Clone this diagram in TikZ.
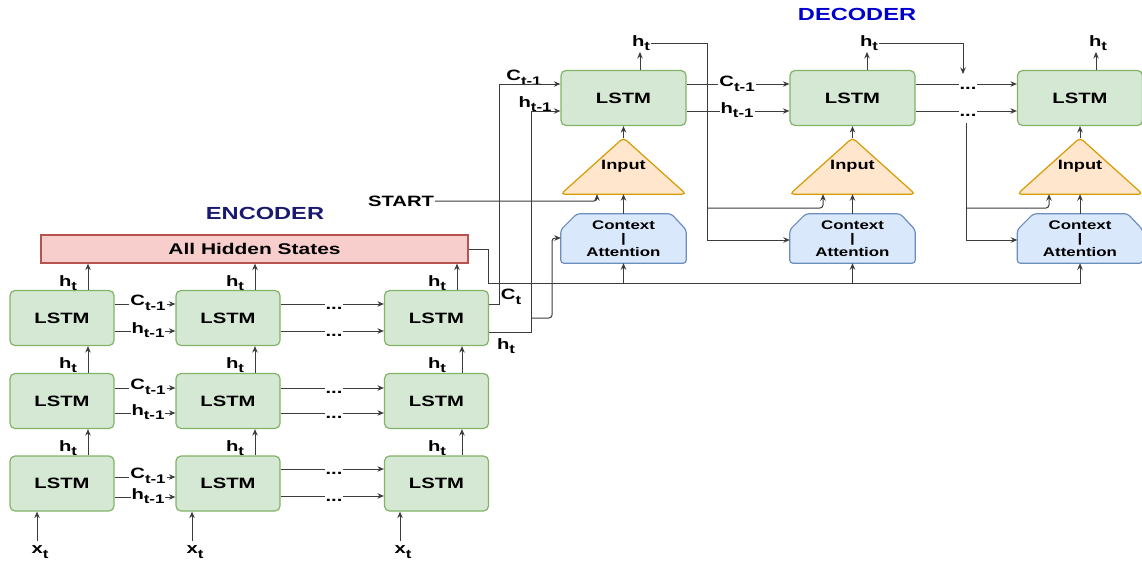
\documentclass[tikz,border=0pt]{standalone}
\usepackage{fontspec}
\setmainfont{Liberation Sans}[FakeStretch=1.35]
\usetikzlibrary{arrows.meta,calc,backgrounds}

\definecolor{lstmfill}{HTML}{D5E8D4}
\definecolor{lstmdraw}{HTML}{82B366}
\definecolor{hidfill}{HTML}{F8CECC}
\definecolor{hiddraw}{HTML}{B85450}
\definecolor{infill}{HTML}{FFE6CC}
\definecolor{indraw}{HTML}{D79B00}
\definecolor{ctxfill}{HTML}{DAE8FC}
\definecolor{ctxdraw}{HTML}{6C8EBF}
\definecolor{enccol}{RGB}{25,25,112}
\definecolor{deccol}{RGB}{0,0,204}
\definecolor{wirecol}{HTML}{3C3C3C}

% symbol with a lowered index
\newcommand\sub[2]{#1\raisebox{-4.5pt}{\fontsize{12.5}{13}\selectfont #2}}

\begin{document}
\begin{tikzpicture}[x=1pt, y=-1pt,
  every node/.style={font=\bfseries\fontsize{15}{17}\selectfont, inner sep=1pt},
  wire/.style={draw=wirecol, line width=1pt},
  arr/.style={wire, -{Stealth[length=6.5pt,width=5.5pt]}},
  lstm/.style={rectangle, rounded corners=5pt, draw=lstmdraw, fill=lstmfill,
    line width=1.2pt, minimum height=55pt, font=\bfseries\fontsize{15}{18}\selectfont},
  enc/.style={lstm, minimum width=104pt},
  dec/.style={lstm, minimum width=125pt},
  tag/.style={fill=white, inner sep=1pt},
  dots/.style={fill=white, inner xsep=1pt, inner ysep=7pt, anchor=base},
  intext/.style={minimum width=125pt, minimum height=56pt, font=\bfseries\fontsize{13.5}{15}\selectfont},
  ctxtext/.style={minimum width=125pt, minimum height=49pt, align=center,
    font=\bfseries\fontsize{12.5}{13.5}\selectfont},
  inshape/.style={draw=indraw, fill=infill, line width=1.2pt, rounded corners=4pt},
  ctxshape/.style={draw=ctxdraw, fill=ctxfill, line width=1.2pt, rounded corners=3pt},
  title/.style={font=\bfseries\fontsize{17.5}{19}\selectfont}
]
\useasboundingbox (0,0) rectangle (1142,565);

% ---------------- encoder ----------------
\node[title, text=enccol] (enctitle) at (265,213) {ENCODER};
\node[draw=hiddraw, fill=hidfill, line width=1.2pt, minimum width=427pt, minimum height=28pt,
  font=\bfseries\fontsize{15.5}{17}\selectfont]
  (hid) at (254.5,249) {All Hidden States};

\node[enc] (e11) at (62,318) {LSTM};
\node[enc] (e12) at (228,318) {LSTM};
\node[enc] (e13) at (436.5,318) {LSTM};
\node[enc] (e21) at (62,401) {LSTM};
\node[enc] (e22) at (228,401) {LSTM};
\node[enc] (e23) at (436.5,401) {LSTM};
\node[enc] (e31) at (62,483.5) {LSTM};
\node[enc] (e32) at (228,483.5) {LSTM};
\node[enc] (e33) at (436.5,483.5) {LSTM};

% hidden state going up
\foreach \c/\x in {1/88,2/255,3/457}
  \draw[arr] (\x,0 |- e1\c.north) -- (\x,0 |- hid.south);
\foreach \c/\x in {1/88,2/255,3/462}{
  \draw[arr] (\x,0 |- e2\c.north) -- (\x,0 |- e1\c.south);
  \draw[arr] (\x,0 |- e3\c.north) -- (\x,0 |- e2\c.south);
}
\foreach \c/\x in {1/68,2/235,3/437}
  \foreach \r/\y in {1/283,2/365,3/448}
    \node (ht\r\c) at (\x,\y) {\sub{h}{t}};

% inputs
\foreach \c/\x/\ax in {1/40/37,2/195/192,3/403/400}{
  \node (xt\c) at (\x,552) {\sub{x}{t}};
  \draw[arr, shorten <=4pt] (\ax,0 |- xt\c.north) -- (\ax,0 |- e3\c.south);
}

% states passed along each layer
\foreach \r/\cy/\hy in {1/304/331,2/388/413,3/477/497}{
  \draw[arr] (e\r1.east |- 0,\cy) -- (e\r2.west |- 0,\cy);
  \draw[arr] (e\r1.east |- 0,\hy) -- (e\r2.west |- 0,\hy);
  \node[tag] (cl\r) at (148,\cy-1) {\sub{C}{t-1}};
  \node[tag] (hl\r) at (148,\hy-1) {\sub{h}{t-1}};
}
\foreach \r/\cy/\hy in {1/304/331,2/388/413,3/469/496}{
  \draw[arr] (e\r2.east |- 0,\cy) -- (e\r3.west |- 0,\cy);
  \draw[arr] (e\r2.east |- 0,\hy) -- (e\r3.west |- 0,\hy);
  \node[dots] (dc\r) at (334,\cy+5) {...};
  \node[dots] (dh\r) at (334,\hy+5) {...};
}

% ---------------- decoder ----------------
\node[title, text=deccol] (dectitle) at (857,14) {DECODER};

\node[dec] (d1) at (623.5,98) {LSTM};
\node[dec] (d2) at (852.5,98) {LSTM};
\node[dec] (d3) at (1080,98) {LSTM};

\node[intext] (in1) at (623.5,166) {Input};
\node[intext] (in2) at (852.5,166) {Input};
\node[intext] (in3) at (1080,166) {Input};

\node[ctxtext] (ctx1) at (623.5,238.5) {Context\\|\\Attention};
\node[ctxtext] (ctx2) at (852.5,238.5) {Context\\|\\Attention};
\node[ctxtext] (ctx3) at (1080,238.5) {Context\\|\\Attention};

\begin{scope}[on background layer]
  \foreach \n in {in1,in2,in3}
    \draw[inshape] (\n.south west) -- (\n.north) -- (\n.south east) -- cycle;
  \foreach \n in {ctx1,ctx2,ctx3}
    \draw[ctxshape] ($(\n.north west)+(0,16)$) -- ($(\n.north west)+(16,0)$)
      -- ($(\n.north east)+(-15,0)$) -- ($(\n.north east)+(0,16)$)
      -- (\n.south east) -- (\n.south west) -- cycle;
\end{scope}

\foreach \k in {1,2,3}{
  \draw[arr] (in\k.north) -- (d\k.south);
  \draw[arr] (ctx\k.north) -- (in\k.south);
}

% outputs of the decoder cells
\node (ot1) at (641,43) {\sub{h}{t}};
\node (ot2) at (869,43) {\sub{h}{t}};
\node (ot3) at (1098,43) {\sub{h}{t}};
\draw[arr] (640,0 |- d1.north) -- (640,0 |- ot1.south);
\draw[arr] (867,0 |- d2.north) -- (867,0 |- ot2.south);
\draw[arr] (1096,0 |- d3.north) -- (1096,0 |- ot3.south);

% encoder final state into the first decoder cell
\node (ctlab) at (511,297) {\sub{C}{t}};
\node (htlab) at (506,346) {\sub{h}{t}};
\node (cin1) at (524,78) {\sub{C}{t-1}};
\node (hin1) at (535,104) {\sub{h}{t-1}};
\draw[arr] (e13.east |- 0,304) -- (499,304) -- (499,84) -- (d1.west |- 0,84);
\draw[arr] (e13.east |- 0,332) -- (531,332) -- (531,111) -- (d1.west |- 0,111);
\draw[arr, rounded corners=3pt] (531,318) -- (552,318) -- (552,238) -- (ctx1.west |- 0,238);

% all hidden states to every attention block
\draw[arr] (hid.east) -- (488,0 |- hid.east) -- (488,283) -| (ctx3.south);
\draw[arr] (ctx1.south |- 0,283) -- (ctx1.south);
\draw[arr] (ctx2.south |- 0,283) -- (ctx2.south);

% start token
\node (start) at (401,201) {START};
\draw[arr, rounded corners=3pt] (start.east) -| (597,0 |- in1.south);

% first to second decoder cell
\draw[arr] (d1.east |- 0,84) -- (d2.west |- 0,84);
\draw[arr] (d1.east |- 0,111) -- (d2.west |- 0,111);
\node[tag] (c12) at (737,84) {\sub{C}{t-1}};
\node[tag] (h12) at (737,110) {\sub{h}{t-1}};
\draw[arr] (ot1.east) -- (707,0 |- ot1.east) -- (707,240) -- (ctx2.west |- 0,240);
\draw[arr, rounded corners=3pt] (707,208) -| (823,0 |- in2.south);

% second to last decoder cell
\draw[arr] (d2.east |- 0,84) -- (d3.west |- 0,84);
\draw[arr] (d2.east |- 0,111) -- (d3.west |- 0,111);
\node[dots] (dd1) at (968,89) {...};
\node[dots] (dd2) at (968,116) {...};
\coordinate (join) at (963,74);
\draw[arr] (ot2.east) -- (963,0 |- ot2.east) -- (join);
\draw[arr] (966,0 |- dd2.south) -- (966,240) -- (ctx3.west |- 0,240);
\draw[arr, rounded corners=3pt] (966,208) -| (1049,0 |- in3.south);
\end{tikzpicture}
\end{document}
